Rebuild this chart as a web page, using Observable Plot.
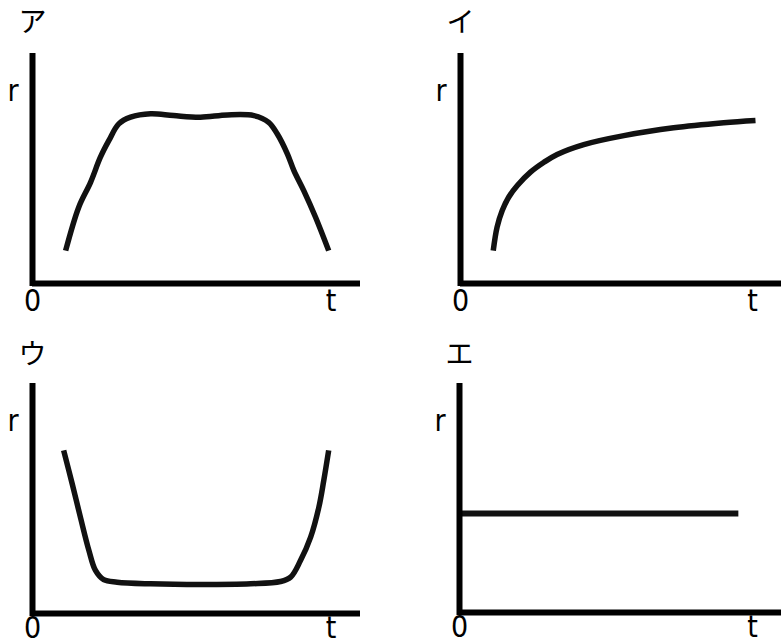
<!DOCTYPE html>
<html><head><meta charset="utf-8">
<script src="https://cdn.jsdelivr.net/npm/d3@7"></script>
<script src="https://cdn.jsdelivr.net/npm/@observablehq/plot@0.6"></script>
<style>
body{margin:0;background:#fff;}
#wrap{position:relative;width:781px;height:644px;overflow:hidden;background:#fff;}
#wrap > svg{position:absolute;display:block;}
</style></head><body><div id="wrap"></div>
<script>
// Panel titles
const titles = ["ア", "イ", "ウ", "エ"];
// Axis tick labels
const xTickPos = [0, 9.1];
const xTickLabels = ["0", "t"];
const yTickPos = [8.35];
const yTickLabels = ["r"];

// ア: rises, plateau, falls
const tA = [1.01, 1.41, 1.77, 2.07, 2.33, 2.63, 2.99, 3.6, 4.3, 5.12, 5.94, 6.75, 7.2, 7.46, 7.77, 7.97, 8.27, 8.63, 9.03];
const rA = [1.43, 3.32, 4.4, 5.49, 6.22, 6.94, 7.23, 7.38, 7.3, 7.23, 7.33, 7.3, 7.01, 6.51, 5.64, 4.91, 4.04, 2.88, 1.43];
// イ: steep rise then slow increase
const tB = [1.02, 1.14, 1.30, 1.50, 1.77, 2.18, 2.60, 3.01, 3.84, 5.09, 6.64, 8.2, 9.19];
const rB = [1.43, 2.45, 3.17, 3.75, 4.26, 4.84, 5.27, 5.61, 6.04, 6.43, 6.77, 6.99, 7.09];
// ウ: falls, flat bottom, rises
const tC = [0.95, 1.21, 1.46, 1.72, 1.92, 2.17, 2.58, 3.6, 5.12, 6.65, 7.56, 7.87, 8.17, 8.48, 8.73, 8.88, 9.03];
const rC = [7.09, 5.64, 4.19, 2.74, 1.87, 1.47, 1.36, 1.29, 1.26, 1.29, 1.39, 1.58, 2.3, 3.32, 4.62, 5.78, 7.09];
// エ: constant
const tD = [0, 8.66];
const rD = [4.32, 4.32];

const layouts = [
  {left: 0,   top: 0,   width: 390, height: 320, marginLeft: 32, marginRight: 30, marginTop: 53, marginBottom: 37, titleDy: -41, pad: 6, curve: "catmull-rom", sw: 5.5},
  {left: 390, top: 0,   width: 391, height: 320, marginLeft: 70, marginRight: 0,  marginTop: 53, marginBottom: 37, titleDy: -41, pad: 6, curve: "catmull-rom", sw: 5.5},
  {left: 0,   top: 320, width: 390, height: 324, marginLeft: 32, marginRight: 30, marginTop: 63, marginBottom: 31, titleDy: -39, pad: 3, curve: "catmull-rom", sw: 5.5},
  {left: 390, top: 320, width: 391, height: 324, marginLeft: 69, marginRight: 0,  marginTop: 63, marginBottom: 32, titleDy: -39, pad: 3, curve: "linear", sw: 6}
];
const series = [[tA, rA], [tB, rB], [tC, rC], [tD, rD]];

const latin = "'Liberation Sans Narrow','DejaVu Sans Condensed','Noto Sans CJK JP',sans-serif";
const cjk = "'Noto Sans CJK JP',sans-serif";
const xLabel = new Map(xTickPos.map((d, i) => [d, xTickLabels[i]]));
const yLabel = new Map(yTickPos.map((d, i) => [d, yTickLabels[i]]));

const wrap = document.getElementById("wrap");
layouts.forEach((L, k) => {
  const [ts, rs] = series[k];
  const data = ts.map((t, i) => ({t, r: rs[i]}));
  const svg = Plot.plot({
    width: L.width, height: L.height,
    marginLeft: L.marginLeft, marginRight: L.marginRight,
    marginTop: L.marginTop, marginBottom: L.marginBottom,
    x: {domain: [0, 10], axis: null},
    y: {domain: [0, 10], axis: null},
    style: {background: "transparent", overflow: "visible"},
    marks: [
      Plot.line(data, {x: "t", y: "r", stroke: "#111", strokeWidth: L.sw, curve: L.curve, strokeLinecap: "butt", strokeLinejoin: "round"}),
      Plot.ruleY([0], {stroke: "#000", strokeWidth: 6}),
      Plot.ruleX([0], {stroke: "#000", strokeWidth: 6, insetBottom: -3}),
      Plot.axisX({ticks: xTickPos, tickFormat: d => xLabel.get(d), tickSize: 0, tickPadding: L.pad, fontSize: 30, fontFamily: latin, fill: "#000", label: null}),
      Plot.axisY({ticks: yTickPos, tickFormat: d => yLabel.get(d), tickSize: 0, tickPadding: 14, fontSize: 30, fontFamily: latin, fill: "#000", label: null}),
      Plot.text([titles[k]], {x: () => 0, frameAnchor: "top", dy: L.titleDy, lineAnchor: "top", fontSize: 28, fontFamily: cjk, fill: "#000"})
    ]
  });
  svg.style.left = L.left + "px";
  svg.style.top = L.top + "px";
  wrap.appendChild(svg);
});
</script>
</body></html>
